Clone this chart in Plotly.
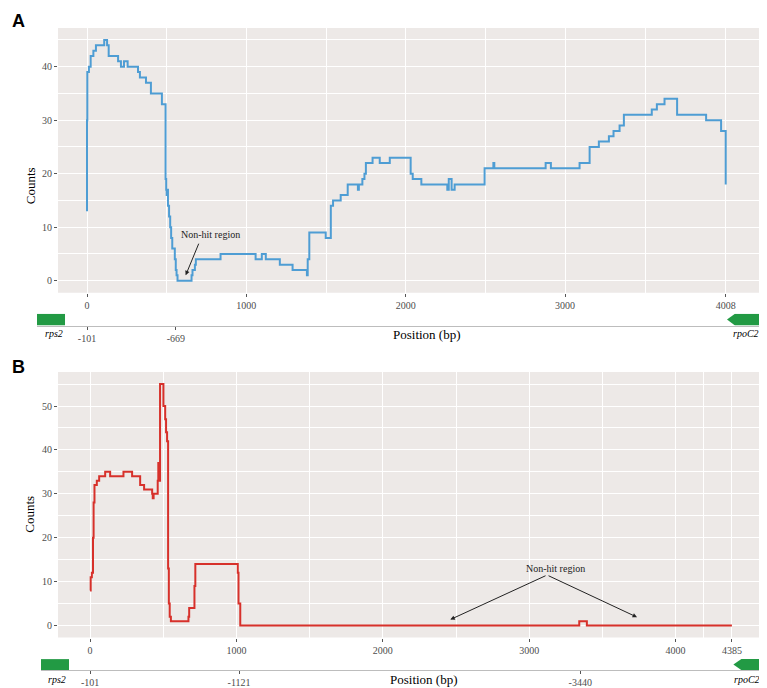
import plotly.graph_objects as go

# Reference canvas is 767x688; the page body adds an 8px margin, so the figure is
# sized to fill the rest and all pixel positions are shifted by that offset.
REF_W, REF_H = 767, 688
OFF = 8
W, H = REF_W - OFF, REF_H - OFF

# ---------------- data ----------------
# Panel A: step profile (position bp -> counts)
a_pos = [0, 0, 2, 12, 23, 40, 56, 108, 126, 136, 195, 213, 232, 255, 320, 332, 370, 401, 470,
         493, 497, 500, 505, 508, 515, 522, 528, 535, 551, 557, 562, 568, 656, 662, 677, 683,
         838, 1058, 1097, 1122, 1210, 1290, 1380, 1385, 1395, 1498, 1530, 1544, 1592, 1636,
         1700, 1706, 1728, 1741, 1750, 1792, 1837, 1900, 2031, 2044, 2098, 2261, 2270, 2288,
         2307, 2495, 2550, 2556, 2878, 2911, 3091, 3154, 3212, 3275, 3304, 3342, 3369, 3544,
         3576, 3624, 3703, 3885, 3979, 4006, 4008]
a_cnt = [13, 30, 39, 40, 42, 43, 44, 45, 44, 42, 41, 40, 41, 40, 39, 38, 37, 35, 33,
         19, 17, 16, 17, 14, 12, 10, 8, 6, 4, 2, 1, 0, 1, 2, 3, 4,
         5, 4, 5, 4, 3, 2, 1, 4, 9, 8, 14, 15, 16, 18,
         17, 18, 19, 20, 22, 23, 22, 23, 20, 19, 18, 17, 19, 17,
         18, 21, 22, 21, 22, 21, 22, 25, 26, 27, 28, 29, 31, 32,
         33, 34, 31, 30, 28, 28, 18]

# Panel B: step profile
b_pos = [0, 4, 12, 16, 20, 24, 30, 46, 62, 103, 137, 228, 287, 342, 369, 424, 428, 434, 462,
         466, 470, 474, 478, 501, 513, 519, 526, 533, 538, 544, 552, 672, 677, 713, 719, 1009,
         1014, 1026, 3342, 3394, 4385]
b_cnt = [8, 11, 12, 12, 20, 28, 32, 33, 34, 35, 34, 35, 34, 32, 31, 30, 29, 30, 33,
         37, 34, 33, 55, 50, 47, 44, 42, 13, 5, 2, 1, 2, 4, 9, 14, 12,
         5, 0, 1, 0, 0]

a_xticks = [0, 1000, 2000, 3000, 4008]
a_xticklabels = ["0", "1000", "2000", "3000", "4008"]
a_xminor = [500, 1500, 2500, 3504]
a_yticks = [0, 10, 20, 30, 40]
a_yminor = [5, 15, 25, 35, 45]

b_xticks = [0, 1000, 2000, 3000, 4000, 4385]
b_xticklabels = ["0", "1000", "2000", "3000", "4000", "4385"]
b_xminor = [500, 1500, 2500, 3500, 4192]
b_yticks = [0, 10, 20, 30, 40, 50]
b_yminor = [5, 15, 25, 35, 45, 55]

# gene track marker positions (bp on plot scale) and labels
a_track_ticks = [0, 558]
a_track_labels = ["-101", "-669"]
b_track_ticks = [0, 1018, 3349]
b_track_labels = ["-101", "-1121", "-3440"]

# genes: (name, start, end, strand)
a_genes = [("rps2", -314, -138, "+"), ("rpoC2", 4016, 4223, "-")]
b_genes = [("rps2", -337, -144, "+"), ("rpoC2", 4395, 4630, "-")]

# ---------------- layout helpers ----------------
SERIF = "Liberation Serif"
BLUE = "#4E9DD4"
RED = "#D7312B"
GREEN = "#229A44"
PANEL = "#EDE9E7"


def fx(p):
    return (p - OFF) / W


def fy(p):
    return 1 - (p - OFF) / H


def xdom(p0, p1):
    return [max(0, fx(p0)), min(1, fx(p1))]


def ydom(top, bot):
    return [max(0, fy(bot)), min(1, fy(top))]


def track_range(main_range, main_px, track_px):
    s = (main_px[1] - main_px[0]) / (main_range[1] - main_range[0])
    r0 = main_range[0] + (track_px[0] - main_px[0]) / s
    r1 = main_range[0] + (track_px[1] - main_px[0]) / s
    return [r0, r1], s


def gene_shape(start, end, strand, head):
    if strand == "+":
        return [start, end, end, start, start], [0, 0, 1, 1, 0]
    return ([start, start + head, end, end, start + head, start],
            [0.5, 0, 0, 1, 1, 0.5])


fig = go.Figure()

fig.add_trace(go.Scatter(x=a_pos, y=a_cnt, mode="lines", line=dict(color=BLUE, width=2, shape="hv"),
                         xaxis="x", yaxis="y", showlegend=False))
fig.add_trace(go.Scatter(x=b_pos, y=b_cnt, mode="lines", line=dict(color=RED, width=2, shape="hv"),
                         xaxis="x3", yaxis="y3", showlegend=False))

# panel geometry (reference pixels)
A_px = (58, 763)
A_py = (28, 294)
A_xr = [-182, 4242]
A_yr = [-2.25, 47.25]
B_px = (58, 764)
B_py = (373.6, 640.4)
B_xr = [-219.25, 4604.25]
B_yr = [-2.75, 57.75]

A_trk_px = (37, 767)
A_trk_py = (315, 327)
B_trk_px = (41, 767)
B_trk_py = (662, 673)

A_trk_r, sA = track_range(A_xr, A_px, A_trk_px)
B_trk_r, sB = track_range(B_xr, B_px, B_trk_px)

for name, st, en, strand in a_genes:
    gx, gy = gene_shape(st, en, strand, 8 / sA)
    fig.add_trace(go.Scatter(x=gx, y=gy, fill="toself", fillcolor=GREEN, mode="lines",
                             line=dict(width=0, color=GREEN), xaxis="x2", yaxis="y2", showlegend=False))
for name, st, en, strand in b_genes:
    gx, gy = gene_shape(st, en, strand, 8 / sB)
    fig.add_trace(go.Scatter(x=gx, y=gy, fill="toself", fillcolor=GREEN, mode="lines",
                             line=dict(width=0, color=GREEN), xaxis="x4", yaxis="y4", showlegend=False))

tickfont = dict(family=SERIF, size=10, color="#4D4D4D")


def main_x(domain, rng, tv, tt, minor, anchor):
    return dict(domain=domain, range=rng, tickmode="array", tickvals=tv, ticktext=tt,
                showgrid=True, gridcolor="white", gridwidth=1.1, zeroline=False, showline=False,
                ticks="outside", ticklen=3, tickwidth=1, tickcolor="#555555", tickfont=tickfont,
                minor=dict(tickvals=minor, showgrid=True, gridcolor="white", gridwidth=0.5),
                anchor=anchor, fixedrange=True)


def main_y(domain, rng, tv, minor, anchor):
    return dict(domain=domain, range=rng, tickmode="array", tickvals=tv,
                showgrid=True, gridcolor="white", gridwidth=1.1, zeroline=False, showline=False,
                ticks="outside", ticklen=3, tickwidth=1, tickcolor="#555555", tickfont=tickfont,
                minor=dict(tickvals=minor, showgrid=True, gridcolor="white", gridwidth=0.5),
                anchor=anchor, fixedrange=True)


def track_x(domain, rng, tv, tt, anchor):
    return dict(domain=domain, range=rng, tickmode="array", tickvals=tv, ticktext=tt,
                showgrid=False, zeroline=False, showline=True, linecolor="#BDBDBD", linewidth=1,
                ticks="outside", ticklen=3, tickwidth=1, tickcolor="#555555", tickfont=tickfont,
                anchor=anchor, fixedrange=True)


def track_y(domain, anchor):
    return dict(domain=domain, range=[0, 1], visible=False, anchor=anchor, fixedrange=True)


annotations = []


def paper_text(px, py, text, size, italic=False, angle=0, bold=False, family=SERIF, color="black"):
    t = text
    if italic:
        t = "<i>" + t + "</i>"
    if bold:
        t = "<b>" + t + "</b>"
    annotations.append(dict(x=fx(px), y=fy(py), xref="paper", yref="paper", text=t,
                            showarrow=False, textangle=angle, xanchor="center", yanchor="middle",
                            font=dict(family=family, size=size, color=color)))


paper_text(18, 21.5, "A", 18, bold=True, family="Liberation Sans")
paper_text(18, 369, "B", 18, bold=True, family="Liberation Sans")
paper_text(30, 187, "Counts", 13, angle=-90)
paper_text(30, 517, "Counts", 13, angle=-90)
paper_text(427, 335.5, "Position (bp)", 13)
paper_text(424, 682.5, "Position (bp)", 13)
paper_text(54, 335, "rps2", 10, italic=True)
paper_text(746, 335, "rpoC2", 10, italic=True)
paper_text(57, 682, "rps2", 10, italic=True)
paper_text(747, 682, "rpoC2", 10, italic=True)

arrowfont = dict(family=SERIF, size=10, color="#222222")
annotations.append(dict(x=772, y=8.6, xref="x", yref="y", text="Non-hit region", showarrow=False,
                        font=arrowfont))
annotations.append(dict(x=619, y=1.0, xref="x", yref="y", ax=705, ay=7.2, axref="x", ayref="y",
                        text="", showarrow=True, arrowhead=2, arrowsize=0.9, arrowwidth=1,
                        arrowcolor="#222222", standoff=0, startstandoff=0))
annotations.append(dict(x=3178, y=12.9, xref="x3", yref="y3", text="Non-hit region", showarrow=False,
                        font=arrowfont))
annotations.append(dict(x=2461, y=1.36, xref="x3", yref="y3", ax=3122, ay=11.5, axref="x3", ayref="y3",
                        text="", showarrow=True, arrowhead=2, arrowsize=0.9, arrowwidth=1,
                        arrowcolor="#222222", standoff=0, startstandoff=0))
annotations.append(dict(x=3737, y=1.9, xref="x3", yref="y3", ax=3122, ay=11.5, axref="x3", ayref="y3",
                        text="", showarrow=True, arrowhead=2, arrowsize=0.9, arrowwidth=1,
                        arrowcolor="#222222", standoff=0, startstandoff=0))

# grey panel backgrounds only behind the two profile plots (gene tracks stay white)
shapes = [
    dict(type="rect", xref="x domain", yref="y domain", x0=0, x1=1, y0=0, y1=1,
         fillcolor=PANEL, line=dict(width=0), layer="below"),
    dict(type="rect", xref="x3 domain", yref="y3 domain", x0=0, x1=1, y0=0, y1=1,
         fillcolor=PANEL, line=dict(width=0), layer="below"),
]

fig.update_layout(
    width=W, height=H,
    margin=dict(l=0, r=0, t=0, b=0),
    paper_bgcolor="white",
    plot_bgcolor="white",
    showlegend=False,
    xaxis=main_x(xdom(*A_px), A_xr, a_xticks, a_xticklabels, a_xminor, "y"),
    yaxis=main_y(ydom(*A_py), A_yr, a_yticks, a_yminor, "x"),
    xaxis2=track_x(xdom(*A_trk_px), A_trk_r, a_track_ticks, a_track_labels, "y2"),
    yaxis2=track_y(ydom(*A_trk_py), "x2"),
    xaxis3=main_x(xdom(*B_px), B_xr, b_xticks, b_xticklabels, b_xminor, "y3"),
    yaxis3=main_y(ydom(*B_py), B_yr, b_yticks, b_yminor, "x3"),
    xaxis4=track_x(xdom(*B_trk_px), B_trk_r, b_track_ticks, b_track_labels, "y4"),
    yaxis4=track_y(ydom(*B_trk_py), "x4"),
    annotations=annotations,
    shapes=shapes,
)

fig.write_html("out.html")
